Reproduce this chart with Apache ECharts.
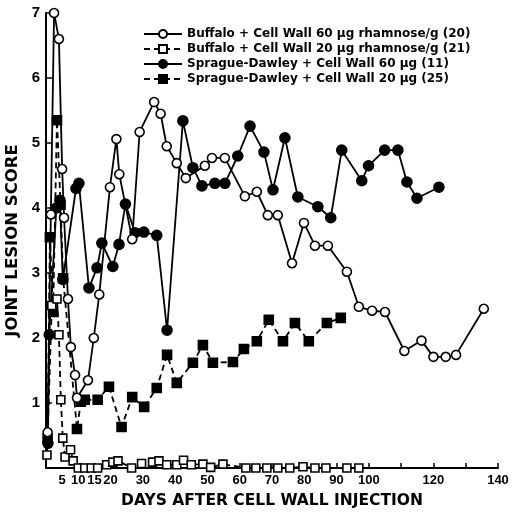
<!DOCTYPE html>
<html>
<head>
<meta charset="utf-8">
<script src="https://cdn.jsdelivr.net/npm/echarts@6/dist/echarts.min.js"></script>
<style>
  html, body { margin: 0; padding: 0; background: #fff; }
  #chart { width: 513px; height: 516px; }
</style>
</head>
<body>
<div id="chart"></div>
<script>
// [day, score]
var buffalo60 = [[0.5,0.55],[1.5,3.9],[2.5,7.0],[4,6.6],[5,4.6],[5.6,3.85],[6.8,2.6],[7.7,1.86],[9,1.43],[9.6,1.08],
  [13,1.35],[14.8,2.0],[16.5,2.67],[19.8,4.32],[21.8,5.06],[22.7,4.52],[26.7,3.52],[29,5.17],[33.5,5.63],[35.5,5.45],
  [37.4,4.95],[40.5,4.69],[43.3,4.46],[49.2,4.65],[51.4,4.77],[55.4,4.77],[61.6,4.18],[65.3,4.25],[68.7,3.89],[71.8,3.89],
  [76.2,3.15],[79.9,3.77],[83.3,3.42],[87.3,3.42],[93.2,3.02],[96.9,2.48],[101,2.42],[105,2.40],[111,1.80],[116.3,1.96],
  [120,1.71],[123.8,1.71],[127,1.74],[135.6,2.45]];
var buffalo20 = [[0.3,0.2],[1.8,2.5],[3.4,2.6],[4,2.05],[4.6,1.05],[5.2,0.46],[5.9,0.17],[7.6,0.28],[8.4,0.11],[10,0],
  [12,0],[14,0],[16,0],[18.8,0.05],[20.7,0.09],[22.3,0.11],[26.5,0],[29.6,0.07],[33,0.09],[35,0.11],[37.4,0.05],
  [40.5,0.05],[42.6,0.12],[45,0.05],[48.6,0.06],[51,0.01],[54.8,0.06],[61.9,0],[65,0],[68.4,0],[71.8,0],[75.5,0],
  [79.6,0.02],[83.3,0],[86.7,0],[93.2,0],[96.9,0]];
var sprague60 = [[0.6,0.38],[1,2.05],[3.2,4.0],[4.3,4.12],[5.2,2.9],[9.3,4.3],[10.2,4.38],[13.3,2.77],[15.8,3.08],
  [17.3,3.46],[20.7,3.1],[22.6,3.44],[24.6,4.06],[27.6,3.62],[30.3,3.63],[34.3,3.58],[37.5,2.12],[42.4,5.34],[45.5,4.62],
  [48.3,4.34],[52.3,4.38],[55.4,4.38],[59.4,4.8],[63.2,5.26],[67.5,4.86],[70.3,4.28],[74,5.08],[78,4.17],[84.2,4.02],
  [88.2,3.85],[91.6,4.89],[97.8,4.42],[99.9,4.65],[104.9,4.89],[109,4.89],[111.8,4.4],[114.9,4.15],[121.7,4.32]];
var sprague20 = [[0.5,0.45],[1.2,3.55],[2.2,2.4],[3.4,5.35],[4.5,4.05],[5.3,2.92],[9.6,0.6],[10.8,1.02],[12,1.05],
  [16,1.05],[19.5,1.25],[23.4,0.63],[26.7,1.09],[30.4,0.94],[34.3,1.23],[37.5,1.74],[40.5,1.31],[45.5,1.62],[48.6,1.89],
  [51.7,1.62],[57.9,1.63],[61.3,1.83],[65.3,1.95],[69,2.28],[73.4,1.95],[77.1,2.23],[81.4,1.95],[87,2.23],[91.3,2.31]];

var seriesNames = [
  'Buffalo + Cell Wall 60 μg rhamnose/g (20)',
  'Buffalo + Cell Wall 20 μg rhamnose/g (21)',
  'Sprague-Dawley + Cell Wall 60 μg (11)',
  'Sprague-Dawley + Cell Wall 20 μg (25)'
];
var xLabels = [5, 10, 15, 20, 30, 40, 50, 60, 70, 80, 90, 100, 120, 140];
var xTicks = [10, 20, 30, 40, 50, 60, 70, 80, 90, 100, 110, 120, 130, 140];

var font = 'DejaVu Sans';
var tickFont = 'Liberation Sans';

function makeSeries(name, data, symbol, filled, dashed, size) {
  return {
    name: name,
    type: 'line',
    data: data,
    symbol: symbol,
    symbolSize: size,
    showSymbol: true,
    z: filled ? 3 : 4,
    lineStyle: { color: '#000', width: 1.8, type: dashed ? [6, 4] : 'solid' },
    itemStyle: { color: filled ? '#000' : '#fff', borderColor: '#000', borderWidth: 1.6 },
    emphasis: { disabled: true },
    animation: false
  };
}

var chart = echarts.init(document.getElementById('chart'));
chart.setOption({
  backgroundColor: '#fff',
  animation: false,
  textStyle: { fontFamily: font, fontWeight: 'bold', color: '#000' },
  // keep the plot box where the figure has it
  grid: { left: 46, right: 15, top: 13, bottom: 48, containLabel: false, outerBoundsMode: 'none' },
  legend: {
    orient: 'vertical',
    left: 138,
    top: 23,
    itemWidth: 38,
    itemHeight: 10,
    itemGap: 3,
    textStyle: { fontFamily: font, fontWeight: 'bold', fontSize: 12, color: '#000' },
    data: seriesNames
  },
  xAxis: {
    type: 'value',
    min: 0,
    max: 140,
    interval: 10,
    name: 'DAYS AFTER CELL WALL INJECTION',
    nameLocation: 'middle',
    nameGap: 25,
    nameTextStyle: { fontFamily: font, fontWeight: 'bold', fontSize: 15.5, color: '#000' },
    axisLine: { lineStyle: { color: '#000', width: 2 } },
    axisTick: { inside: true, length: 5, customValues: xTicks, lineStyle: { color: '#000', width: 1.5 } },
    axisLabel: { customValues: xLabels, margin: 6, fontSize: 13, fontWeight: 'bold', color: '#000', fontFamily: tickFont },
    splitLine: { show: false }
  },
  yAxis: {
    type: 'value',
    min: 0,
    max: 7,
    interval: 1,
    name: 'JOINT LESION SCORE',
    nameLocation: 'middle',
    nameGap: 10,
    nameTextStyle: { fontFamily: font, fontWeight: 'bold', fontSize: 16.5, color: '#000' },
    axisLine: { show: true, lineStyle: { color: '#000', width: 2 } },
    axisTick: { show: true, inside: true, length: 6, lineStyle: { color: '#000', width: 1.5 } },
    axisLabel: {
      margin: 6, fontSize: 15, fontWeight: 'bold', color: '#000', fontFamily: tickFont,
      formatter: function (v) { return v === 0 ? '' : v; }
    },
    splitLine: { show: false }
  },
  series: [
    makeSeries(seriesNames[0], buffalo60, 'circle', false, false, 9),
    makeSeries(seriesNames[1], buffalo20, 'rect', false, true, 8),
    makeSeries(seriesNames[2], sprague60, 'circle', true, false, 10),
    makeSeries(seriesNames[3], sprague20, 'rect', true, true, 9)
  ]
});
</script>
</body>
</html>
